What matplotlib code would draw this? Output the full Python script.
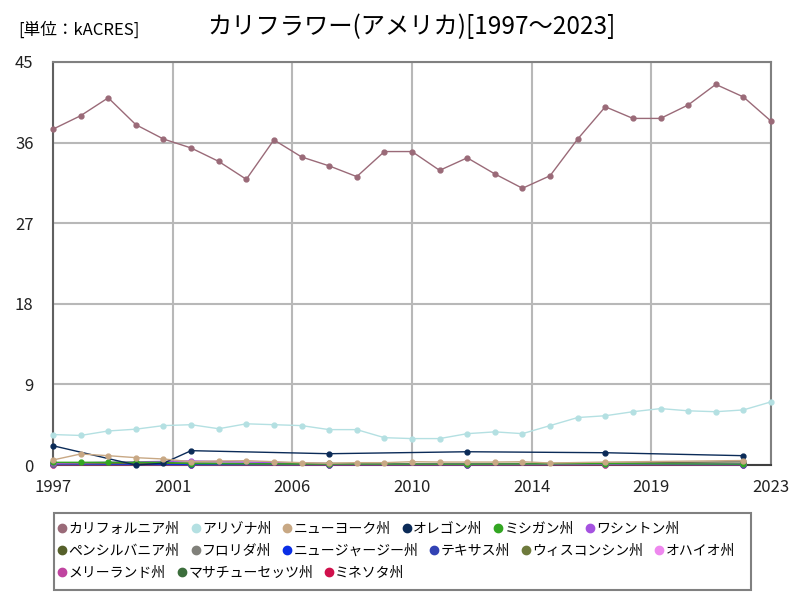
import numpy as np
import matplotlib
matplotlib.use("Agg")
import matplotlib.pyplot as plt
from matplotlib.lines import Line2D
from matplotlib.patches import Rectangle

plt.rcParams['font.family'] = ['Noto Sans CJK JP', 'DejaVu Sans']

years = list(range(1997, 2024))
N = None

states = ["カリフォルニア州", "アリゾナ州", "ニューヨーク州", "オレゴン州", "ミシガン州", "ワシントン州",
          "ペンシルバニア州", "フロリダ州", "ニュージャージー州", "テキサス州", "ウィスコンシン州", "オハイオ州",
          "メリーランド州", "マサチューセッツ州", "ミネソタ州"]
colors = ["#9a6a78", "#b4e0e2", "#c8a884", "#0b2b58", "#33a622", "#a552e0",
          "#56602a", "#80807a", "#0a2ee6", "#3242b4", "#6e7a3c", "#ee88ee",
          "#c044a0", "#3c6e3c", "#d0104c"]

california = [37.5, 39.0, 41.0, 38.0, 36.4, 35.4, 33.9, 31.9, 36.3, 34.4, 33.4, 32.2, 35.0, 35.0,
              32.9, 34.3, 32.5, 30.9, 32.3, 36.4, 40.0, 38.7, 38.7, 40.2, 42.5, 41.1, 38.4]
arizona = [3.4, 3.3, 3.8, 4.0, 4.4, 4.5, 4.05, 4.6, 4.5, 4.4, 3.95, 3.95, 3.05, 2.95,
           2.95, 3.5, 3.7, 3.5, 4.4, 5.3, 5.5, 5.95, 6.3, 6.05, 5.95, 6.15, 7.05]
new_york = [0.56, 1.23, 1.04, 0.82, 0.67, 0.37, 0.45, 0.48, 0.37, 0.26, 0.19, 0.26, 0.26, 0.37,
            0.33, 0.33, 0.33, 0.37, 0.22, N, 0.33, N, N, N, N, 0.5, N]
oregon = [2.15, N, N, 0.0, 0.2, 1.6, N, N, N, N, 1.26, N, N, N,
          N, 1.48, N, N, N, N, 1.37, N, N, N, N, 1.04, N]
michigan = [0.3, 0.3, 0.3, 0.3, 0.3, 0.15, N, N, N, N, 0.12, N, N, N,
            N, 0.1, N, N, N, N, 0.15, N, N, N, N, 0.1, N]


def census(a, b, c, d, e, f):
    # values only on census years 1997, 2002, 2007, 2012, 2017, 2022
    out = [N] * len(years)
    for y, v in zip([1997, 2002, 2007, 2012, 2017, 2022], [a, b, c, d, e, f]):
        out[years.index(y)] = v
    return out


washington = census(0.2, 0.45, 0.15, 0.12, 0.1, 0.15)
pennsylvania = census(0.25, 0.2, 0.15, 0.15, 0.2, 0.2)
florida = census(0.15, 0.2, 0.1, 0.1, 0.15, 0.4)
new_jersey = census(0.15, 0.1, 0.1, 0.08, 0.1, 0.1)
texas = census(0.1, 0.05, 0.05, 0.05, 0.08, 0.05)
wisconsin = census(0.15, 0.12, 0.18, 0.1, 0.12, 0.1)
ohio = census(0.12, 0.1, 0.08, 0.08, 0.1, 0.08)
maryland = census(0.05, 0.03, 0.03, 0.03, 0.05, 0.03)
massachusetts = census(0.1, 0.08, 0.08, 0.06, 0.08, 0.06)
minnesota = census(0.05, 0.05, 0.04, 0.04, 0.05, 0.04)

series = [california, arizona, new_york, oregon, michigan, washington, pennsylvania, florida,
          new_jersey, texas, wisconsin, ohio, maryland, massachusetts, minnesota]

fig = plt.figure(figsize=(8, 6), dpi=100)
ax = fig.add_axes([53 / 800, 1 - 465 / 600, 718 / 800, 403 / 600])

# draw the small series first so the big ones sit on top
for k in reversed(range(len(series))):
    vals, col = series[k], colors[k]
    xs = [y for y, v in zip(years, vals) if v is not None]
    ys = [v for v in vals if v is not None]
    ax.plot(xs, ys, color=col, lw=1, marker="o", markersize=3.5, clip_on=False, zorder=3)

ax.set_xlim(years[0], years[-1])
ax.set_ylim(0, 45)
xt = np.linspace(years[0], years[-1], 7)
ax.set_xticks(xt, [str(int(round(v))) for v in xt])
ax.set_yticks([0, 9, 18, 27, 36, 45])
ax.tick_params(length=0, labelsize=12, colors="#222222")
ax.tick_params(axis="y", pad=14)
ax.tick_params(axis="x", pad=10)
ax.grid(True, color="#b8b8b8", lw=1.5)
ax.set_axisbelow(True)
for s in ax.spines.values():
    s.set_color("#808080")
    s.set_linewidth(1.5)
ax.spines["left"].set_color("#606060")
ax.spines["bottom"].set_color("#404040")

fig.text(18 / 800, 1 - 30 / 600, "[単位：kACRES]", fontsize=12, va="center", ha="left")
fig.text(412 / 800, 1 - 27 / 600, "カリフラワー(アメリカ)[1997～2023]", fontsize=17.5,
         va="center", ha="center")

# legend laid out in rows like the original (flow layout)
rows = [range(0, 6), range(6, 12), range(12, 15)]
row_y = [529, 551, 573]
for idx, yy in zip(rows, row_y):
    handles = [Line2D([], [], ls="", marker="o", markersize=6, color=colors[i]) for i in idx]
    labels = [states[i] for i in idx]
    fig.legend(handles, labels, loc="center left", bbox_to_anchor=(59 / 800, 1 - yy / 600),
               ncol=len(labels), frameon=False, fontsize=10, handlelength=0.5,
               handletextpad=0.2, columnspacing=0.9, borderpad=0, borderaxespad=0)
fig.add_artist(Rectangle((54 / 800, 1 - 590 / 600), 697 / 800, 77 / 600, transform=fig.transFigure,
                         fill=False, edgecolor="#808080", lw=1.5))

fig.savefig("out.png", dpi=100)
